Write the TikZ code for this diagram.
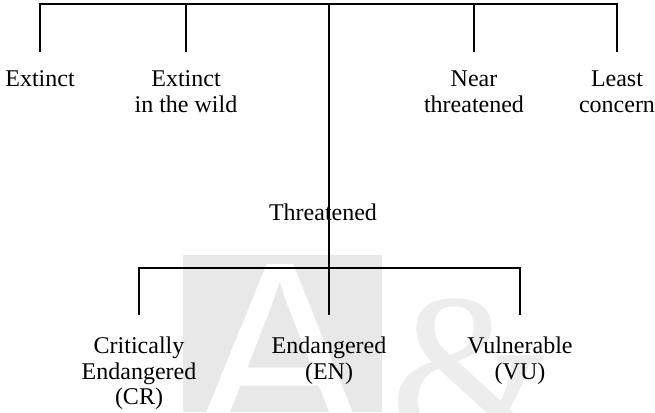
\documentclass[tikz,border=0pt]{standalone}
\usepackage{fontspec}
\setmainfont{Liberation Serif}
\setsansfont{Liberation Sans}
\usetikzlibrary{positioning}

\begin{document}
\begin{tikzpicture}[x=1pt,y=-1pt,
    cat/.style={align=center, anchor=north, inner sep=0pt, outer ysep=19pt,
      font=\fontsize{24}{25.5}\selectfont},
    sub/.style={cat, outer ysep=22pt},
    link/.style={line width=1.8pt}]
  \useasboundingbox (0,0) rectangle (655,412);
  % faint watermark behind the lower row
  \begin{scope}
    \clip (0,0) rectangle (655,412);
    \fill[gray!18] (183,255) rectangle (382,412);
    \node[white, inner sep=0pt, anchor=base, font=\sffamily\fontsize{250}{250}\selectfont] (markA) at (280,436) {A};
    \node[gray!14, inner sep=0pt, anchor=base, font=\fontsize{210}{210}\selectfont] (markB) at (472,438) {\&};
  \end{scope}
  % categories
  \node[cat] (ext) at (40,52) {Extinct};
  \node[cat] (ewild) at (186,52) {Extinct\\in the wild};
  \node[cat] (nt) at (474,52) {Near\\threatened};
  \node[cat] (lc) at (617,52) {Least\\concern};
  \node[font=\fontsize{24}{25.5}\selectfont, inner sep=0pt, anchor=north] (thr) at (323,204) {Threatened};
  \node[sub] (cr) at (139,315) {Critically\\Endangered\\(CR)};
  \node[sub] (en) at (329,315) {Endangered\\(EN)};
  \node[sub] (vu) at (520,315) {Vulnerable\\(VU)};
  % tree lines
  \draw[link] (ext.north) -- ++(0,-48) -| (lc.north);
  \draw[link] (ewild.north) -- ++(0,-48);
  \draw[link] (nt.north) -- ++(0,-48);
  \draw[link] (en.north) -- ++(0,-311);
  \draw[link] (cr.north) -- ++(0,-47) -| (vu.north);
\end{tikzpicture}
\end{document}
